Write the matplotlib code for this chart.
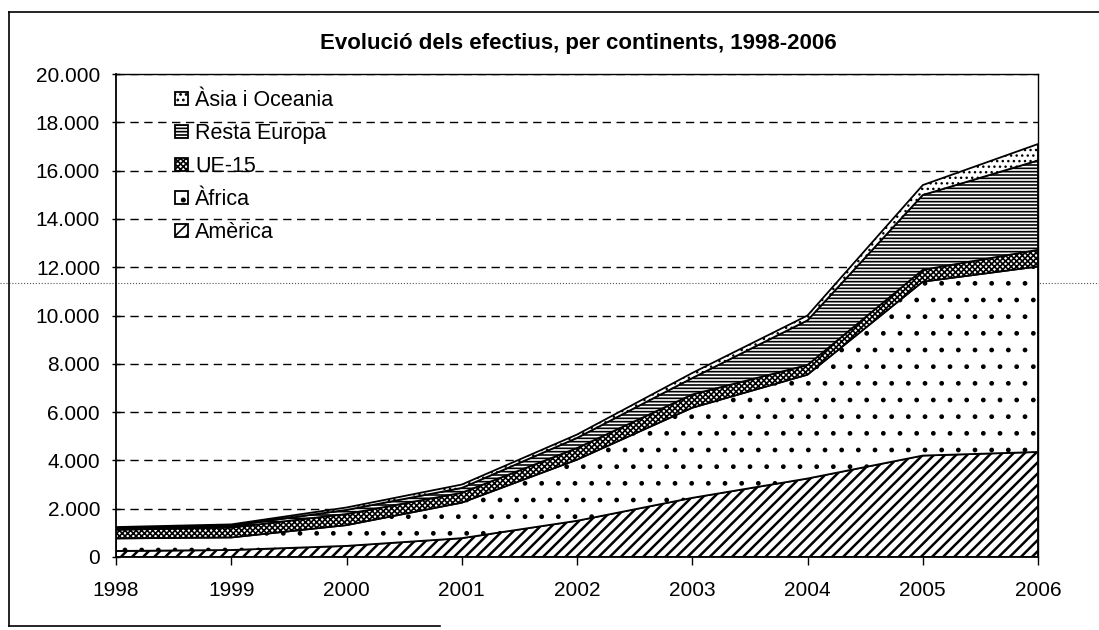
import matplotlib
matplotlib.use("Agg")
import matplotlib.pyplot as plt
from matplotlib.lines import Line2D
from matplotlib.ticker import FuncFormatter

# dades llegides del gràfic (efectius per continent)
years = [1998, 1999, 2000, 2001, 2002, 2003, 2004, 2005, 2006]
america = [250, 290, 460, 780, 1500, 2450, 3250, 4200, 4350]
africa = [520, 520, 860, 1470, 2530, 3730, 4300, 7200, 7680]
ue15 = [360, 410, 460, 410, 480, 550, 400, 490, 690]
resta_europa = [60, 70, 170, 200, 420, 680, 1850, 3100, 3700]
asia_oceania = [50, 60, 100, 140, 140, 210, 200, 410, 680]

series_labels = ["Amèrica", "Àfrica", "UE-15", "Resta Europa", "Àsia i Oceania"]
series_hatches = ["///", ".", "xxxxxx", "-----", "..."]
hatch_widths = [1.8, 1.0, 1.2, 1.2, 1.0]
y_ticks = list(range(0, 20001, 2000))

plt.rcParams["font.family"] = ["Liberation Sans", "DejaVu Sans"]
plt.rcParams["hatch.linewidth"] = 1.2

W, H = 1099, 630
fig = plt.figure(figsize=(W / 100, H / 100), dpi=100)
ax = fig.add_axes([116 / W, 1 - 557 / H, (1038 - 116) / W, (557 - 74) / H])
ax.set_facecolor("none")

polys = ax.stackplot(
    years,
    america, africa, ue15, resta_europa, asia_oceania,
    labels=series_labels,
    colors=["white"] * 5,
    edgecolor="black",
    linewidth=1.3,
    hatch=series_hatches,
)
for p, hw in zip(polys, hatch_widths):
    if hasattr(p, "set_hatch_linewidth"):
        p.set_hatch_linewidth(hw)

ax.set_xlim(years[0], years[-1])
ax.set_ylim(0, 20000)
ax.set_xticks(years)
ax.set_yticks(y_ticks)
ax.yaxis.set_major_formatter(FuncFormatter(lambda v, p: f"{int(v):,}".replace(",", ".")))

ax.set_axisbelow(True)
ax.grid(axis="y", color="black", linestyle=(0, (6, 4)), linewidth=1.0)

ax.tick_params(axis="y", direction="inout", length=6, width=1, labelsize=15, pad=8.5)
ax.tick_params(axis="x", direction="out", length=6, width=1, labelsize=15, pad=11)
for s in ax.spines.values():
    s.set_linewidth(1.0)
ax.spines["left"].set_linewidth(1.3)
ax.spines["bottom"].set_linewidth(1.3)

handles, labels = ax.get_legend_handles_labels()
ax.legend(
    handles[::-1], labels[::-1],
    loc="upper left",
    bbox_to_anchor=(175 / W, 1 - 90 / H),
    bbox_transform=fig.transFigure,
    frameon=False,
    fontsize=15.5,
    handlelength=0.6,
    handleheight=0.6,
    handletextpad=0.35,
    labelspacing=0.56,
    borderpad=0,
    borderaxespad=0,
)

fig.text(578 / W, 1 - 43 / H, "Evolució dels efectius, per continents, 1998-2006",
         ha="center", va="center", fontsize=16, fontweight="bold")

# marc del full escanejat
fig.add_artist(Line2D([9 / W, 1], [1 - 12 / H, 1 - 12 / H], transform=fig.transFigure,
                      color="black", linewidth=1.2))
fig.add_artist(Line2D([9 / W, 9 / W], [1 - 12 / H, 1 - 626 / H], transform=fig.transFigure,
                      color="black", linewidth=1.2))
fig.add_artist(Line2D([9 / W, 440 / W], [1 - 626 / H, 1 - 626 / H], transform=fig.transFigure,
                      color="black", linewidth=1.2))
fig.add_artist(Line2D([0, 1], [1 - 283 / H, 1 - 283 / H], transform=fig.transFigure,
                      color="#555555", linewidth=0.8, linestyle=":", zorder=-1))

fig.savefig("out.png", dpi=100)
